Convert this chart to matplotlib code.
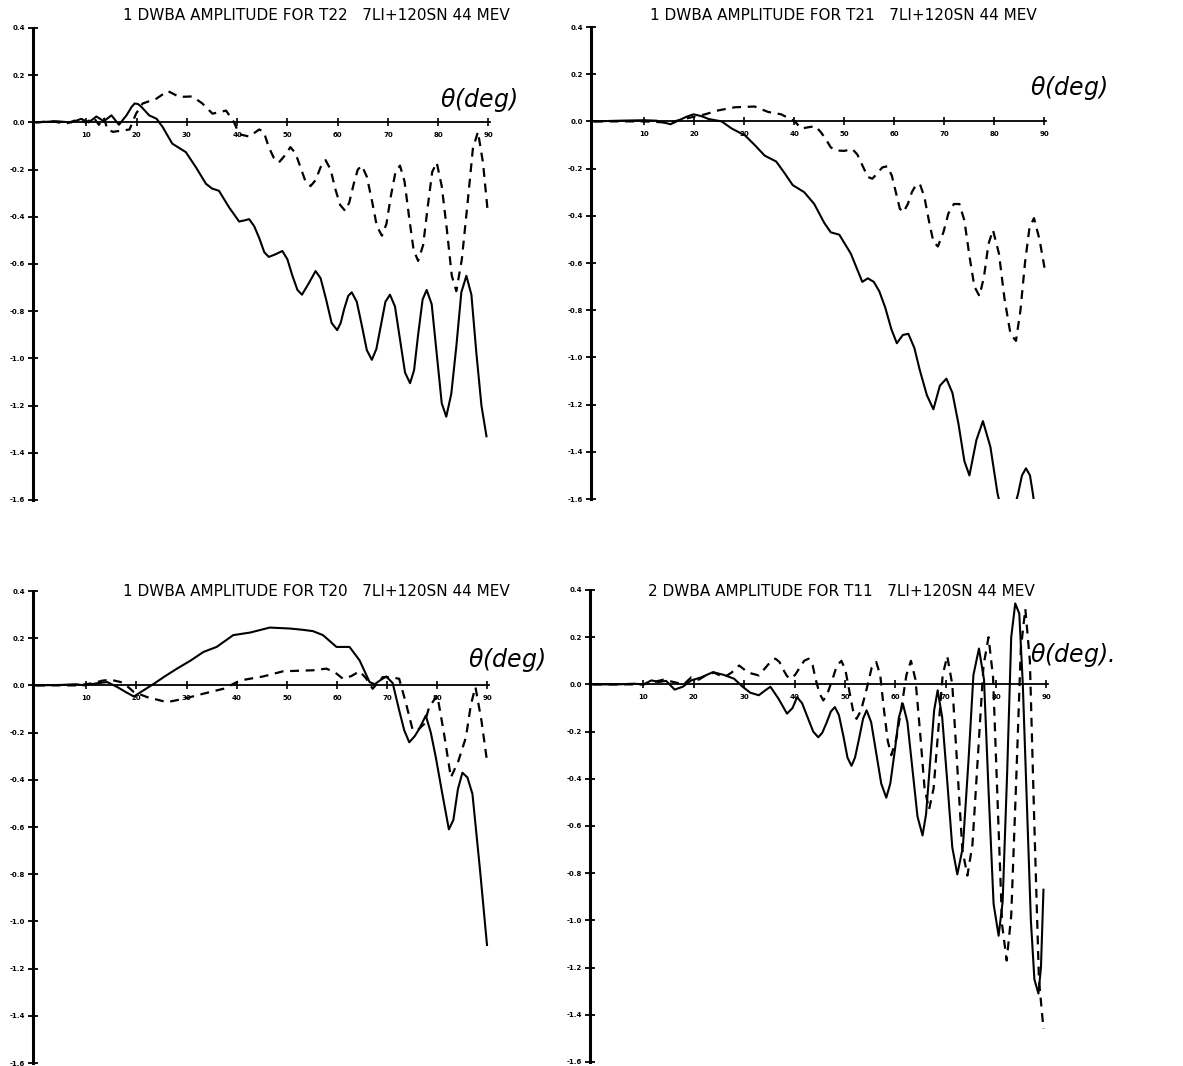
import numpy as np
import matplotlib
matplotlib.use("Agg")
import matplotlib.pyplot as plt

# DWBA amplitudes, 7Li + 120Sn at 44 MeV, versus scattering angle (deg)
# each panel: solid and dashed curve

yticks = [0.4, 0.2, 0.0, -0.2, -0.4, -0.6, -0.8, -1.0, -1.2, -1.4, -1.6]
xticks = [10, 20, 30, 40, 50, 60, 70, 80, 90]

# --- T22 ---
t22_th_solid = [0, 4, 7, 9, 10.5, 12, 13.5, 15, 16.5, 18, 19, 19.6, 20.3, 21, 22.5, 24,
                25.2, 27.1, 29.8, 31.8, 33.8, 35, 36.4, 38.4, 40.4, 41.5, 42.4, 43.4, 44.4,
                45.4, 46.3, 47.5, 49, 50, 51, 52, 52.9, 54.3, 55.6, 56.6, 57.7, 58.8, 59.9,
                60.6, 61.3, 62.1, 62.8, 63.8, 64.8, 65.8, 66.8, 67.7, 68.6, 69.5, 70.4,
                71.4, 72.4, 73.4, 74.4, 75.2, 76, 76.9, 77.7, 78.7, 79.7, 80.7, 81.6, 82.6,
                83.6, 84.6, 85.6, 86.6, 87.6, 88.6, 89.6]
t22_solid = [0, 0.005, 0.0, 0.015, 0.0, 0.025, 0.005, 0.03, -0.01, 0.03, 0.065, 0.08,
             0.078, 0.065, 0.03, 0.015, -0.02, -0.09, -0.126, -0.19, -0.26, -0.28, -0.29,
             -0.36, -0.42, -0.415, -0.41, -0.44, -0.49, -0.55, -0.57, -0.56, -0.545, -0.58,
             -0.65, -0.71, -0.73, -0.68, -0.63, -0.66, -0.75, -0.85, -0.88, -0.85, -0.79,
             -0.735, -0.72, -0.76, -0.86, -0.965, -1.006, -0.96, -0.86, -0.76, -0.73,
             -0.78, -0.92, -1.06, -1.105, -1.05, -0.90, -0.75, -0.71, -0.77, -0.98, -1.19,
             -1.247, -1.15, -0.95, -0.72, -0.65, -0.73, -0.98, -1.2, -1.33]
t22_th_dash = [0, 3, 6, 8, 10, 11.5, 12.5, 13.5, 14.2, 15.3, 17, 18.6, 19.9, 21.2, 23.9,
               26.2, 28.5, 31.1, 33.1, 35.1, 37.8, 39.4, 40.4, 42.4, 44.4, 45.3, 46.3, 47.3,
               48.3, 49.5, 50.6, 51.6, 52.6, 53.6, 54.6, 55.6, 56.6, 57.6, 58.6, 59.5, 60.5,
               61.5, 62.3, 63.2, 64, 64.8, 65.8, 66.8, 67.8, 68.8, 69.7, 70.6, 71.5, 72.4,
               73.3, 74.2, 75.1, 76, 77, 77.9, 78.8, 79.7, 80.7, 81.7, 82.7, 83.6, 84.7,
               85.8, 86.9, 87.9, 88.9, 89.8]
t22_dash = [0, 0.005, -0.005, 0.01, 0.0, 0.02, -0.01, 0.02, -0.03, -0.04, -0.035, -0.03,
            0.037, 0.08, 0.10, 0.133, 0.108, 0.11, 0.08, 0.037, 0.05, 0.0, -0.05, -0.06,
            -0.03, -0.04, -0.105, -0.15, -0.17, -0.14, -0.105, -0.13, -0.19, -0.25, -0.27,
            -0.245, -0.19, -0.16, -0.2, -0.28, -0.35, -0.375, -0.34, -0.26, -0.2, -0.183,
            -0.23, -0.33, -0.44, -0.48, -0.43, -0.31, -0.21, -0.183, -0.25, -0.40, -0.54,
            -0.587, -0.52, -0.36, -0.21, -0.17, -0.27, -0.45, -0.65, -0.715, -0.58, -0.35,
            -0.11, -0.04, -0.17, -0.367]

# --- T21 ---
t21_th_solid = [0, 5, 10, 12.5, 14, 15.3, 17, 18.5, 19.9, 21.5, 22.9, 25.5, 27.5, 30.2,
                32.1, 34.1, 36.4, 38.1, 39.7, 42, 44, 46, 47.3, 49, 51.3, 53.6, 54.7, 55.9,
                57, 58.2, 59.4, 60.5, 61.7, 62.8, 64, 65.1, 66.5, 67.8, 69.1, 70.4, 71.6,
                72.8, 74, 75, 76.4, 77.7, 79.2, 80.6, 82.5, 84.7, 85.5, 86.3, 87.1, 87.7, 89]
t21_solid = [0, 0.003, 0.005, 0.003, -0.005, -0.012, 0.005, 0.02, 0.03, 0.022, 0.01, 0.0,
             -0.03, -0.06, -0.10, -0.145, -0.17, -0.22, -0.27, -0.30, -0.35, -0.43, -0.47,
             -0.48, -0.56, -0.68, -0.665, -0.68, -0.72, -0.79, -0.88, -0.94, -0.905, -0.90,
             -0.96, -1.055, -1.16, -1.22, -1.12, -1.09, -1.15, -1.28, -1.44, -1.50, -1.35,
             -1.27, -1.38, -1.575, -1.75, -1.58, -1.5, -1.47, -1.5, -1.58, -1.8]
t21_th_dash = [0, 10, 15, 18, 20, 22.2, 24.9, 28.2, 32.1, 34.8, 37.4, 40.1, 41.4, 42.8,
               44.2, 45.3, 46.3, 47.3, 48.3, 50, 51.6, 52.6, 53.7, 54.7, 55.6, 56.6, 57.6,
               58.6, 59.5, 60.3, 61.1, 61.8, 62.7, 63.5, 64.3, 65.1, 66, 66.9, 67.8, 68.7,
               69.8, 70.8, 71.9, 73, 74, 75, 76, 77, 77.9, 78.8, 79.7, 80.9, 82, 83.2, 84.3,
               85.2, 86.1, 87, 87.9, 89, 90]
t21_dash = [0, 0.0, -0.005, 0.01, 0.02, 0.03, 0.047, 0.06, 0.063, 0.04, 0.03, 0.0, -0.03,
            -0.025, -0.02, -0.045, -0.075, -0.11, -0.123, -0.125, -0.117, -0.14, -0.19,
            -0.235, -0.243, -0.22, -0.195, -0.19, -0.23, -0.3, -0.37, -0.385, -0.35, -0.3,
            -0.27, -0.265, -0.32, -0.42, -0.51, -0.53, -0.47, -0.39, -0.35, -0.35, -0.42,
            -0.57, -0.70, -0.74, -0.66, -0.52, -0.46, -0.56, -0.75, -0.9, -0.93, -0.8, -0.6,
            -0.45, -0.41, -0.5, -0.62]

# --- T20 ---
t20_th_solid = [0, 5, 8, 9.6, 11, 12.5, 14.2, 16.2, 17.8, 19.5, 21.5, 23.5, 25.8, 28.1,
                30.8, 33.4, 36, 37.8, 39.3, 42.7, 46.6, 50.6, 53, 55.2, 57.2, 59.9, 62.5,
                64.5, 66.5, 67.5, 68.5, 69.8, 71.1, 72.4, 73.4, 74.4, 75.5, 76.4, 77.7,
                78.7, 79.7, 81, 82.3, 83.2, 84.1, 85, 86, 87, 88.5, 89.9]
t20_solid = [0, 0.002, 0.005, 0.0, 0.005, 0.01, 0.014, -0.007, -0.027, -0.047, -0.02,
             0.007, 0.04, 0.071, 0.105, 0.142, 0.163, 0.19, 0.213, 0.224, 0.245, 0.241,
             0.236, 0.23, 0.213, 0.163, 0.163, 0.106, 0.014, 0.005, 0.02, 0.038, 0.01,
             -0.106, -0.19, -0.241, -0.215, -0.184, -0.128, -0.2, -0.305, -0.46, -0.61,
             -0.57, -0.44, -0.37, -0.39, -0.46, -0.78, -1.10]
t20_th_dash = [0, 8, 10, 11.5, 13.2, 14.9, 16.9, 18, 19.5, 22.2, 26.1, 29.4, 33.4, 37.4,
               40.7, 45.3, 49.3, 55.2, 57.9, 59.6, 61.2, 62.9, 64.5, 65.8, 67.1, 68.1, 69.1,
               70.8, 72.4, 73.8, 75.1, 76.3, 77.4, 78.4, 80, 81.3, 82.7, 84.2, 85.7, 86.7,
               87.6, 88.8, 89.9]
t20_dash = [0, 0.0, 0.005, 0.01, 0.02, 0.024, 0.014, 0.0, -0.028, -0.05, -0.071, -0.057,
            -0.035, -0.014, 0.021, 0.038, 0.06, 0.064, 0.071, 0.055, 0.028, 0.04, 0.06, 0.03,
            -0.014, 0.01, 0.035, 0.035, 0.028, -0.08, -0.19, -0.185, -0.163, -0.09, -0.043,
            -0.2, -0.39, -0.32, -0.22, -0.08, -0.007, -0.15, -0.32]

# --- T11 ---
t11_th_solid = [0, 5, 8, 10, 11.6, 13, 14.5, 16.2, 17.8, 19.5, 21.5, 23.8, 26, 28, 29.7,
                31.2, 32.9, 34.2, 35.2, 36.8, 38.5, 39.6, 40.5, 41.5, 42.6, 43.7, 44.7,
                45.5, 46.4, 47.2, 48, 48.8, 49.7, 50.5, 51.3, 52, 52.8, 53.6, 54.3, 55.2,
                56.2, 57.2, 58.2, 59, 59.9, 60.7, 61.5, 62.4, 63.4, 64.4, 65.4, 66.1, 66.9,
                67.7, 68.4, 69.3, 70.3, 71.3, 72.3, 73.4, 74.5, 75.5, 76.6, 77.6, 78.5,
                79.5, 80.5, 81.3, 82.2, 83, 83.8, 84.6, 85.3, 86.1, 86.9, 87.6, 88.4, 88.9,
                89.4]
t11_solid = [0, 0.0, 0.003, 0.0, 0.017, 0.01, 0.015, -0.022, -0.01, 0.017, 0.03, 0.052,
             0.04, 0.024, -0.01, -0.035, -0.046, -0.025, -0.01, -0.06, -0.124, -0.1, -0.054,
             -0.08, -0.14, -0.2, -0.224, -0.205, -0.16, -0.115, -0.096, -0.13, -0.22, -0.31,
             -0.345, -0.31, -0.23, -0.145, -0.11, -0.16, -0.29, -0.42, -0.48, -0.42, -0.28,
             -0.14, -0.082, -0.16, -0.36, -0.56, -0.64, -0.55, -0.33, -0.11, -0.025, -0.14,
             -0.41, -0.69, -0.805, -0.69, -0.33, 0.04, 0.152, 0.02, -0.45, -0.93, -1.065,
             -0.92, -0.37, 0.2, 0.343, 0.30, 0.0, -0.5, -1.0, -1.25, -1.31, -1.2, -0.87]
t11_th_dash = [0, 10, 12, 14, 16, 18, 19.5, 21, 22.5, 24, 26, 27.5, 29, 30.8, 32.9, 34.6,
               35.4, 36.2, 37, 37.7, 38.5, 39.2, 40.1, 41, 41.9, 42.8, 43.6, 44.2, 45, 45.7,
               46.5, 47.5, 48.4, 49.3, 50.1, 50.8, 51.6, 52.3, 53.2, 54.3, 55.3, 56.2, 57,
               57.7, 58.5, 59.2, 60.2, 61.2, 62.2, 63.1, 64, 64.9, 65.8, 66.7, 67.6, 68.5,
               69.4, 70.3, 71.3, 72.3, 73.3, 74.3, 75.3, 76.4, 77.5, 78.5, 79.4, 80.3, 81.2,
               82.1, 83, 84, 84.9, 85.8, 86.7, 87.6, 88.5, 89.4]
t11_dash = [0, 0.0, 0.01, 0.02, 0.01, 0.0, 0.03, 0.02, 0.04, 0.05, 0.03, 0.05, 0.08, 0.05,
            0.038, 0.08, 0.1, 0.109, 0.095, 0.065, 0.035, 0.024, 0.04, 0.07, 0.1, 0.109,
            0.08, 0.02, -0.04, -0.068, -0.04, 0.02, 0.08, 0.10, 0.06, -0.02, -0.11, -0.146,
            -0.11, -0.02, 0.07, 0.095, 0.04, -0.1, -0.24, -0.30, -0.23, -0.1, 0.04, 0.10,
            0.02, -0.2, -0.44, -0.53, -0.44, -0.2, 0.04, 0.12, 0.0, -0.35, -0.7, -0.81,
            -0.68, -0.3, 0.08, 0.20, 0.03, -0.5, -1.02, -1.17, -0.98, -0.4, 0.15, 0.32, 0.1,
            -0.6, -1.25, -1.46]

titles = ["1 DWBA AMPLITUDE FOR T22   7LI+120SN 44 MEV",
          "1 DWBA AMPLITUDE FOR T21   7LI+120SN 44 MEV",
          "1 DWBA AMPLITUDE FOR T20   7LI+120SN 44 MEV",
          "2 DWBA AMPLITUDE FOR T11   7LI+120SN 44 MEV"]

W, H = 1183, 1066
fig = plt.figure(figsize=(W / 100, H / 100), dpi=100)


def px_axes(left, right, top, bottom):
    # axes box given in pixel coordinates from the top-left corner
    return fig.add_axes([left / W, (H - bottom) / H, (right - left) / W, (bottom - top) / H])


def setup(ax):
    ax.set_xlim(-0.6, 90.3)
    ax.set_ylim(-1.6, 0.4)
    for s in ["top", "right"]:
        ax.spines[s].set_visible(False)
    ax.spines["left"].set_linewidth(2.2)
    ax.spines["bottom"].set_position(("data", 0))
    ax.spines["bottom"].set_linewidth(1.3)
    ax.set_yticks(yticks)
    ax.set_yticklabels(["%.1f" % v for v in yticks])
    ax.set_xticks(xticks)
    ax.set_xticklabels([str(v) for v in xticks])
    ax.tick_params(axis="y", direction="inout", length=7, width=1.3, pad=2,
                   labelsize=5)
    ax.tick_params(axis="x", direction="inout", length=6, width=1.2, pad=4,
                   labelsize=5)
    for lab in ax.get_xticklabels() + ax.get_yticklabels():
        lab.set_fontweight("bold")
    ax.patch.set_alpha(0)


panels = [
    (px_axes(33, 490, 28, 500), t22_th_solid, t22_solid, t22_th_dash, t22_dash),
    (px_axes(591, 1046, 27, 499), t21_th_solid, t21_solid, t21_th_dash, t21_dash),
    (px_axes(33, 489, 591, 1063), t20_th_solid, t20_solid, t20_th_dash, t20_dash),
    (px_axes(590, 1048, 590, 1062), t11_th_solid, t11_solid, t11_th_dash, t11_dash),
]

for ax, ths, ys, thd, yd in panels:
    setup(ax)
    ax.plot(ths, ys, color="black", lw=1.5, solid_joinstyle="round")
    ax.plot(thd, yd, color="black", lw=1.6, linestyle=(0, (4, 3)))

# plotter titles
title_pos = [(123, 15), (650, 15), (123, 592), (648, 592)]
for (x, y), t in zip(title_pos, titles):
    fig.text(x / W, 1 - y / H, t, fontsize=11, ha="left", va="center",
             family="DejaVu Sans", color="black")

# handwritten axis labels
hand = [(440, 100, r"$\theta$(deg)"), (1030, 88, r"$\theta$(deg)"),
        (468, 660, r"$\theta$(deg)"), (1030, 655, r"$\theta$(deg).")]
for x, y, t in hand:
    fig.text(x / W, 1 - y / H, t, fontsize=17, ha="left", va="center",
             style="italic", family="DejaVu Sans", color="black")

fig.savefig("out.png", dpi=100, facecolor="white")
